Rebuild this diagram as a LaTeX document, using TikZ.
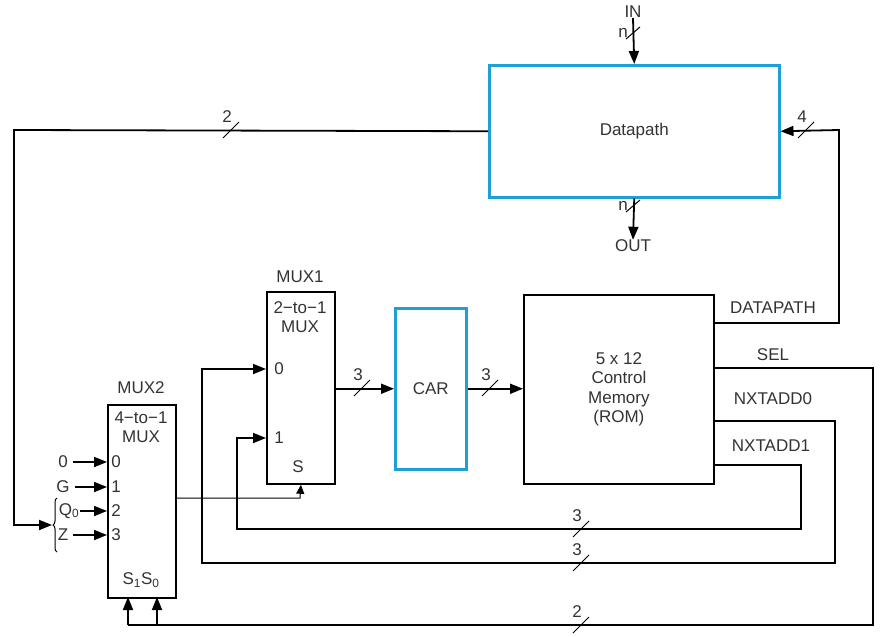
\documentclass[tikz,border=0pt]{standalone}
\usepackage{fontspec}
\setmainfont{Liberation Sans}
\usetikzlibrary{arrows.meta,decorations.pathreplacing}
\definecolor{dpblue}{RGB}{30,160,215}
\newcommand{\busmark}[3]{%
  \draw[line width=1pt] (#1-8,#2+8) -- (#1+8,#2-8);
  \node[lbl] at (#1-4,#2-13) {#3};}
\newcommand{\vbusmark}[3]{%
  \draw[line width=1pt] (#1-7,#2+6) -- (#1+7,#2-6);
  \node[lbl] at (#1-10,#2) {#3};}
\begin{document}
\begin{tikzpicture}[x=1pt,y=-1pt,
  font=\fontsize{17}{19.5}\selectfont,
  wire/.style={line width=1.8pt, black},
  thinwire/.style={line width=1pt, black},
  arr/.style={-{Triangle[length=13pt,width=10pt]}},
  sarr/.style={-{Triangle[length=9pt,width=8pt]}},
  blk/.style={draw, line width=1.8pt, inner sep=0pt, anchor=north west, text=black!80, align=center},
  bluebox/.style={draw=dpblue, line width=2.5pt, inner sep=0pt, anchor=north west, text=black!80},
  lbl/.style={text=black!80, inner sep=0pt},
  ]
\useasboundingbox[fill=white] (0,0) rectangle (887,637);

% blocks
\node[bluebox, minimum width=290pt, minimum height=132pt] (dp) at (488,64) {Datapath};
\node[blk, minimum width=190pt, minimum height=189pt] (rom) at (523,294) {5 x 12\\Control\\Memory\\(ROM)};
\node[bluebox, minimum width=71pt, minimum height=161pt] (car) at (394,307) {CAR};
\node[blk, minimum width=68pt, minimum height=192pt] (m1) at (266,291) {};
\node[blk, minimum width=68pt, minimum height=193pt] (m2) at (107,404) {};

% mux labels
\node[lbl] (m1t) at (300,277) {MUX1};
\node[lbl, align=center] (m1n) at (300,317) {2−to−1\\MUX};
\node[lbl] (m1p0) at (279,369) {0};
\node[lbl] (m1p1) at (279,438) {1};
\node[lbl] (m1s) at (298,467) {S};
\node[lbl] (m2t) at (141,388) {MUX2};
\node[lbl, align=center] (m2n) at (141,427) {4−to−1\\MUX};
\node[lbl] (m2p0) at (116,462) {0};
\node[lbl] (m2p1) at (116,487) {1};
\node[lbl] (m2p2) at (116,511) {2};
\node[lbl] (m2p3) at (116,535) {3};
\node[lbl] (m2s) at (141,580) {S\textsubscript{1}S\textsubscript{0}};

% MUX2 external inputs
\node[lbl] (i0) at (63,462) {0};
\node[lbl] (i1) at (63,487) {G};
\node[lbl] (i2) at (69,511) {Q\textsubscript{0}};
\node[lbl] (i3) at (63,535) {Z};
\draw[wire,arr] ([xshift=5pt]i0.east) -- (i0.east -| m2.west);
\draw[wire,arr] ([xshift=5pt]i1.east) -- (i1.east -| m2.west);
\draw[wire,arr] ([xshift=1pt]i2.east |- 0,511) -- (m2.west |- 0,511);
\draw[wire,arr] ([xshift=5pt]i3.east) -- (i3.east -| m2.west);
\draw[line width=1pt, decorate, decoration={brace, amplitude=4pt}] (57,552) -- (57,498);
\coordinate (brtip) at (52,525);

% IN / OUT
\node[lbl] (inl) at (633,12) {IN};
\node[lbl] (outl) at (633,246) {OUT};
\draw[wire,arr] (inl.south) -- (dp.north);
\draw[wire,arr] (dp.south) -- (outl.north);
\vbusmark{633}{33}{n}
\vbusmark{633}{206}{n}

% ROM output labels and ports
\node[lbl] (ldp) at (773,308) {DATAPATH};
\node[lbl] (lsel) at (773,355) {SEL};
\node[lbl] (ln0) at (773,399) {NXTADD0};
\node[lbl] (ln1) at (771,446) {NXTADD1};
\coordinate (rdp) at (713,323);
\coordinate (rsel) at (713,368);
\coordinate (rn0) at (713,421);
\coordinate (rn1) at (713,465);

% DATAPATH control to datapath
\draw[wire,arr] (rdp) -- (839,323) -- (839,130) -- (dp.east);
\busmark{806}{130}{4}

% status from datapath to MUX2
\draw[wire,arr] (dp.west) -- (14,130) -- (14,525) -- (brtip);
\busmark{231}{130}{2}

% SEL to MUX2 selects
\coordinate (s1) at (128,597);
\coordinate (s0) at (157,597);
\draw[wire] (rsel) -- (873,368) -- (873,625) -- (128,625);
\draw[wire,arr] (128,625) -- (s1);
\draw[wire,arr] (157,625) -- (s0);
\busmark{581}{625}{2}

% NXTADD0 to MUX1 input 0
\draw[wire,arr] (rn0) -- (835,421) -- (835,563) -- (202,563) -- (202,369) -- (m1.west |- m1p0);
\busmark{581}{563}{3}

% NXTADD1 to MUX1 input 1
\draw[wire,arr] (rn1) -- (801,465) -- (801,529) -- (237,529) -- (237,438) -- (m1.west |- m1p1);
\busmark{581}{529}{3}

% MUX2 output to MUX1 select
\draw[thinwire,sarr] (m2.east |- 0,498) -- (300,498) -- (m1.south);

% MUX1 -> CAR -> ROM
\draw[wire,arr] (m1.east |- car.west) -- (car.west);
\busmark{362}{388}{3}
\draw[wire,arr] (car.east) -- (car.east -| rom.west);
\busmark{490}{388}{3}
\end{tikzpicture}
\end{document}
